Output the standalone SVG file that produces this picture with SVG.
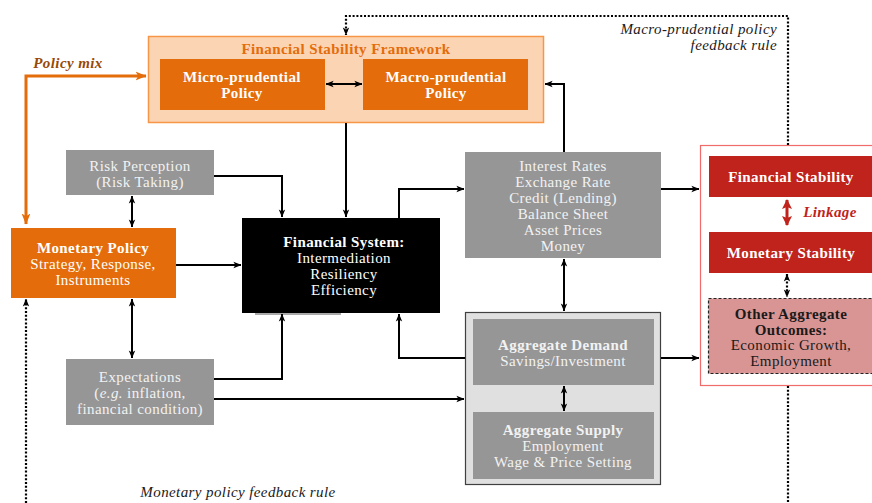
<svg xmlns="http://www.w3.org/2000/svg" width="872" height="503" viewBox="0 0 872 503">
<defs>
<style>
text{font-family:"Liberation Serif","Times New Roman",serif;font-size:15px;letter-spacing:0.4px;text-anchor:middle}
.b{font-weight:bold}
.w{fill:#ffffff}
.lt{fill:#f2f2f2}
.dk{fill:#1a1a1a}
.gray{fill:#969696}
.org{fill:#e46c0a}
.red{fill:#c0231b}
.c{fill:none;stroke:#000;stroke-width:2}
.dot{fill:none;stroke:#000;stroke-width:2.2;stroke-dasharray:2 1.8}
.it{font-style:italic}
</style>
<marker id="ah" viewBox="0 0 10 10" refX="9.5" refY="5" markerWidth="8" markerHeight="8" markerUnits="userSpaceOnUse" orient="auto-start-reverse"><path d="M0,1 L10,5 L0,9 L2.5,5 z" fill="#000"/></marker>
<marker id="aho" viewBox="0 0 10 10" refX="9.5" refY="5" markerWidth="11" markerHeight="11" markerUnits="userSpaceOnUse" orient="auto-start-reverse"><path d="M0,1 L10,5 L0,9 L2.5,5 z" fill="#e46c0a"/></marker>
<marker id="ahr" viewBox="0 0 10 10" refX="9" refY="5" markerWidth="10" markerHeight="10" markerUnits="userSpaceOnUse" orient="auto-start-reverse"><path d="M0,0 L10,5 L0,10 L2,5 z" fill="#c0231b"/></marker>
</defs>
<rect width="872" height="503" fill="#ffffff"/>

<g id="framework">
<rect x="148.5" y="36.5" width="395" height="86" fill="#fbd4b4" stroke="#f79646" stroke-width="1.5"/>
<text x="346" y="54" class="b" fill="#e46c0a">Financial Stability Framework</text>
</g>
<g id="micro">
<rect x="160" y="59" width="165" height="51" class="org"/>
<text x="242" y="82" class="b w">Micro-prudential</text>
<text x="242" y="98" class="b w">Policy</text>
</g>
<g id="macro">
<rect x="363" y="59" width="165" height="51" class="org"/>
<text x="446" y="82" class="b w">Macro-prudential</text>
<text x="446" y="98" class="b w">Policy</text>
</g>

<g id="risk">
<rect x="66" y="150" width="148" height="45" class="gray"/>
<text x="140" y="171" class="lt">Risk Perception</text>
<text x="140" y="187" class="lt">(Risk Taking)</text>
</g>
<g id="monetary-policy">
<rect x="11" y="228" width="165" height="70" class="org"/>
<text x="93" y="253" class="b w">Monetary Policy</text>
<text x="93" y="269" class="w">Strategy, Response,</text>
<text x="93" y="285" class="w">Instruments</text>
</g>
<g id="financial-system">
<rect x="242" y="218" width="198" height="95" fill="#000"/>
<line x1="255" y1="314" x2="341" y2="314" stroke="#555" stroke-width="1"/>
<text x="344" y="247" class="b w">Financial System:</text>
<text x="344" y="263" class="w">Intermediation</text>
<text x="344" y="279" class="w">Resiliency</text>
<text x="344" y="295" class="w">Efficiency</text>
</g>
<g id="expectations">
<rect x="66" y="359" width="148" height="66" class="gray"/>
<text x="140" y="382" class="lt">Expectations</text>
<text x="140" y="398" class="lt">(<tspan class="it">e.g.</tspan> inflation,</text>
<text x="140" y="414" class="lt">financial condition)</text>
</g>
<g id="channels">
<rect x="465" y="152" width="196" height="106" class="gray"/>
<text x="563" y="171" class="lt">Interest Rates</text>
<text x="563" y="187" class="lt">Exchange Rate</text>
<text x="563" y="203" class="lt">Credit (Lending)</text>
<text x="563" y="219" class="lt">Balance Sheet</text>
<text x="563" y="235" class="lt">Asset Prices</text>
<text x="563" y="251" class="lt">Money</text>
</g>
<g id="aggregate">
<rect x="465.5" y="312.5" width="195" height="172" fill="#e0e0e0" stroke="#404040" stroke-width="1.2"/>
</g>
<g id="aggregate-demand">
<rect x="473" y="319" width="181" height="66" class="gray"/>
<text x="563" y="350" class="b lt">Aggregate Demand</text>
<text x="563" y="366" class="lt">Savings/Investment</text>
</g>
<g id="aggregate-supply">
<rect x="473" y="412" width="181" height="67" class="gray"/>
<text x="563" y="435" class="b lt">Aggregate Supply</text>
<text x="563" y="451" class="lt">Employment</text>
<text x="563" y="467" class="lt">Wage &amp; Price Setting</text>
</g>
<g id="outcomes">
<rect x="700.5" y="145.5" width="180" height="240" fill="#ffffff" stroke="#f26b6b" stroke-width="1.2"/>
</g>
<g id="financial-stability">
<rect x="709" y="156" width="163" height="41" class="red"/>
<text x="791" y="182" class="b w">Financial Stability</text>
</g>
<g id="monetary-stability">
<rect x="709" y="232" width="163" height="41" class="red"/>
<text x="791" y="258" class="b w">Monetary Stability</text>
</g>
<g id="other-outcomes">
<rect x="708.5" y="298.5" width="170" height="75" fill="#d99594" stroke="#222" stroke-width="1.2" stroke-dasharray="3 2"/>
<text x="791" y="319" class="b dk">Other Aggregate</text>
<text x="791" y="335" class="b dk">Outcomes:</text>
<text x="791" y="350" class="dk">Economic Growth,</text>
<text x="791" y="366" class="dk">Employment</text>
</g>

<g id="labels">
<text x="68" y="68" class="b it" fill="#984807">Policy mix</text>
<text x="777" y="34" class="it dk" style="text-anchor:end">Macro-prudential policy</text>
<text x="777" y="50" class="it dk" style="text-anchor:end">feedback rule</text>
<text x="238" y="497" class="it dk">Monetary policy feedback rule</text>
<text x="830" y="217" class="b it" fill="#c0231b">Linkage</text>
</g>

<g id="connectors">
<line x1="326" y1="84" x2="362" y2="84" class="c" marker-start="url(#ah)" marker-end="url(#ah)"/>
<path d="M26,224 L26,76 L146,76" fill="none" stroke="#e46c0a" stroke-width="3" marker-start="url(#aho)" marker-end="url(#aho)"/>
<path d="M788,145 L788,16 L346,16 L346,35" class="dot" marker-end="url(#ah)"/>
<line x1="788" y1="386" x2="788" y2="503" class="dot"/>
<line x1="26" y1="503" x2="26" y2="299" class="dot" marker-end="url(#ah)"/>
<line x1="132" y1="196" x2="132" y2="227" class="c" marker-start="url(#ah)" marker-end="url(#ah)"/>
<line x1="132" y1="299" x2="132" y2="358" class="c" marker-start="url(#ah)" marker-end="url(#ah)"/>
<path d="M214,176 L282,176 L282,217" class="c" marker-end="url(#ah)"/>
<line x1="346" y1="123" x2="346" y2="217" class="c" marker-end="url(#ah)"/>
<line x1="176" y1="265" x2="241" y2="265" class="c" marker-end="url(#ah)"/>
<path d="M399,218 L399,189 L464,189" class="c" marker-end="url(#ah)"/>
<path d="M564,152 L564,84 L545,84" class="c" marker-end="url(#ah)"/>
<line x1="661" y1="189" x2="699" y2="189" class="c" marker-end="url(#ah)"/>
<line x1="564" y1="259" x2="564" y2="311" class="c" marker-start="url(#ah)" marker-end="url(#ah)"/>
<line x1="564" y1="386" x2="564" y2="411" class="c" marker-start="url(#ah)" marker-end="url(#ah)"/>
<line x1="661" y1="358" x2="699" y2="358" class="c" marker-end="url(#ah)"/>
<path d="M465,358 L399,358 L399,314" class="c" marker-end="url(#ah)"/>
<path d="M214,379 L282,379 L282,314" class="c" marker-end="url(#ah)"/>
<line x1="214" y1="399" x2="464" y2="399" class="c" marker-end="url(#ah)"/>
<line x1="787" y1="200" x2="787" y2="225" stroke="#c0231b" stroke-width="3" marker-start="url(#ahr)" marker-end="url(#ahr)"/>
<line x1="787" y1="274" x2="787" y2="297" class="dot" marker-start="url(#ah)" marker-end="url(#ah)"/>
</g>
</svg>
